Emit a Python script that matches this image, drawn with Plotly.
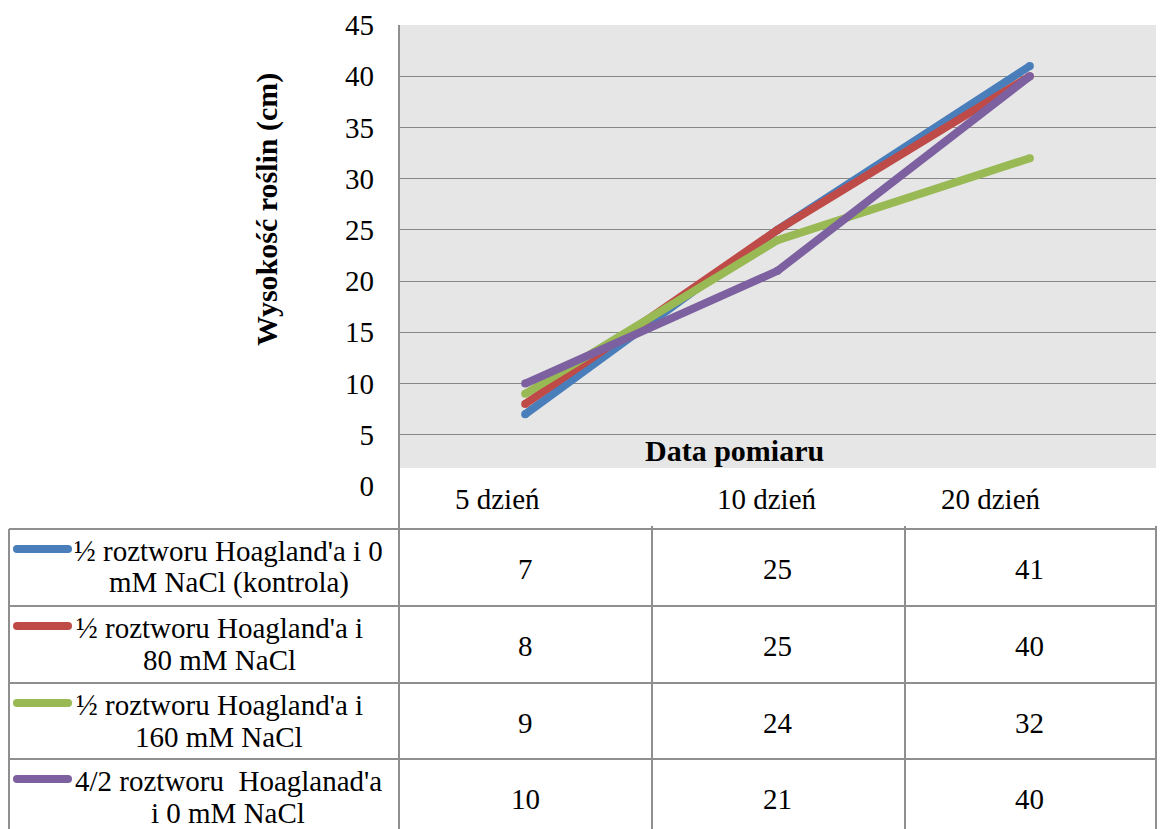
import plotly.graph_objects as go

# Measurement days (categories) and plant heights in cm for each treatment
days = ["5 dzień", "10 dzień", "20 dzień"]
series_labels = [
    "½ roztworu Hoagland'a i 0<br>mM NaCl (kontrola)",
    "½ roztworu Hoagland'a i<br>80 mM NaCl",
    "½ roztworu Hoagland'a i<br>160 mM NaCl",
    "4/2 roztworu\u00a0 Hoaglanad'a<br>i 0 mM NaCl",
]
height_control = [7, 25, 41]
height_nacl_80 = [8, 25, 40]
height_nacl_160 = [9, 24, 32]
height_hoagland_4_2 = [10, 21, 40]
y_ticks = [0, 5, 10, 15, 20, 25, 30, 35, 40, 45]

series_values = [height_control, height_nacl_80, height_nacl_160, height_hoagland_4_2]
colors = ["#4a7ebb", "#be4b48", "#98b954", "#7d60a0"]

W, H = 1161, 829
FONT = "Liberation Serif, Times New Roman, DejaVu Serif, serif"
FS = 29
FS_BOLD = 30
GRID = "#878787"
TABLE_LINE = "#8f8f8f"


def px(x):
    return x / W


def py(y):
    return 1 - y / H


# plot area / table geometry in pixels
PLOT_L, PLOT_R, PLOT_T, ZERO_Y, GRAY_B = 399, 1156, 25, 486, 468
TABLE_L = 9
col_edges = [PLOT_L, 652, 905, PLOT_R]
row_tops = [529, 606, 683, 759]
ROW_H = 77
label_center_x = [229, 219, 219, 228]   # centre of each wrapped series label
LINE_GAP = 32

fig = go.Figure()

for name, vals, col in zip(series_labels, series_values, colors):
    fig.add_trace(go.Scatter(
        x=days, y=vals, name=name.replace("<br>", " "),
        mode="lines+markers",
        line=dict(color=col, width=8),
        marker=dict(color=col, size=8),
        showlegend=False, hoverinfo="skip",
        xaxis="x", yaxis="y",
    ))

# legend keys inside the data table (pixel overlay axes)
for i, col in enumerate(colors):
    ky = row_tops[i] + 20
    fig.add_trace(go.Scatter(
        x=[17, 68], y=[ky, ky], mode="lines+markers",
        line=dict(color=col, width=8), marker=dict(color=col, size=8),
        showlegend=False, hoverinfo="skip", xaxis="x2", yaxis="y2",
    ))

shapes = []
# grey plot background
shapes.append(dict(type="rect", xref="paper", yref="paper",
                   x0=px(PLOT_L), x1=px(PLOT_R), y0=py(GRAY_B), y1=py(PLOT_T),
                   fillcolor="#e6e6e6", line=dict(width=0), layer="below"))


def hline(y, x0, x1, w=2):
    shapes.append(dict(type="line", xref="paper", yref="paper",
                       x0=px(x0), x1=px(x1), y0=py(y), y1=py(y),
                       line=dict(color=TABLE_LINE, width=w), layer="above"))


def vline(x, y0, y1, w=2):
    shapes.append(dict(type="line", xref="paper", yref="paper",
                       x0=px(x), x1=px(x), y0=py(y0), y1=py(y1),
                       line=dict(color=TABLE_LINE, width=w), layer="above"))


# value axis line running down through the table
vline(PLOT_L, PLOT_T, H + 5)
for ry in row_tops:
    hline(ry, TABLE_L, PLOT_R)
vline(TABLE_L, row_tops[0], H + 5)
for cx in col_edges[1:]:
    vline(cx, row_tops[0] - 3, H + 5)

annotations = []
# category headers of the data table
header_x = [497, 767, 991]
for d, hx in zip(days, header_x):
    annotations.append(dict(text=d, xref="paper", yref="paper",
                            x=px(hx), y=py(499), xanchor="center", yanchor="middle",
                            showarrow=False, font=dict(family=FONT, size=FS, color="black")))

# series labels (two centred lines each) and values of the data table
for i, (name, vals) in enumerate(zip(series_labels, series_values)):
    cy = row_tops[i] + ROW_H / 2
    lines = name.split("<br>")
    for k, part in enumerate(lines):
        ly = cy + (k - (len(lines) - 1) / 2) * LINE_GAP - 1
        annotations.append(dict(text=part, xref="paper", yref="paper",
                                x=px(label_center_x[i]), y=py(ly),
                                xanchor="center", yanchor="middle",
                                showarrow=False, font=dict(family=FONT, size=FS, color="black")))
    for d, v in zip(days, vals):
        annotations.append(dict(text=str(v), xref="x", yref="paper",
                                x=d, y=py(cy + 1), xanchor="center", yanchor="middle",
                                showarrow=False, font=dict(family=FONT, size=FS, color="black")))

# axis titles
annotations.append(dict(text="<b>Wysokość roślin (cm)</b>", xref="paper", yref="paper",
                        x=px(267), y=py(210), xanchor="center", yanchor="middle", textangle=-90,
                        showarrow=False, font=dict(family=FONT, size=FS_BOLD, color="black")))
annotations.append(dict(text="<b>Data pomiaru</b>", xref="paper", yref="paper",
                        x=px(734), y=py(451), xanchor="center", yanchor="middle",
                        showarrow=False, font=dict(family=FONT, size=FS_BOLD, color="black")))

fig.update_layout(
    width=W, height=H,
    margin=dict(l=0, r=0, t=0, b=0, autoexpand=False),
    paper_bgcolor="white",
    plot_bgcolor="rgba(0,0,0,0)",
    font=dict(family=FONT, size=FS, color="black"),
    xaxis=dict(type="category", domain=[px(PLOT_L), px(PLOT_R)], range=[-0.5, 2.5],
               showgrid=False, showticklabels=False, zeroline=False, showline=False,
               ticks="", anchor="y", fixedrange=True, automargin=False),
    yaxis=dict(domain=[py(ZERO_Y), py(PLOT_T)], range=[0, 45], tickvals=y_ticks,
               showgrid=True, gridcolor=GRID, gridwidth=1.4,
               zeroline=True, zerolinecolor="rgba(0,0,0,0)",
               showline=False, ticks="", ticklabelstandoff=24, automargin=False,
               tickfont=dict(family=FONT, size=FS, color="black"), anchor="x", fixedrange=True),
    xaxis2=dict(domain=[0, 1], range=[0, W], visible=False, anchor="y2", fixedrange=True),
    yaxis2=dict(domain=[0, 1], range=[H, 0], visible=False, anchor="x2", fixedrange=True),
    shapes=shapes,
    annotations=annotations,
)

fig.write_html("out.html")
